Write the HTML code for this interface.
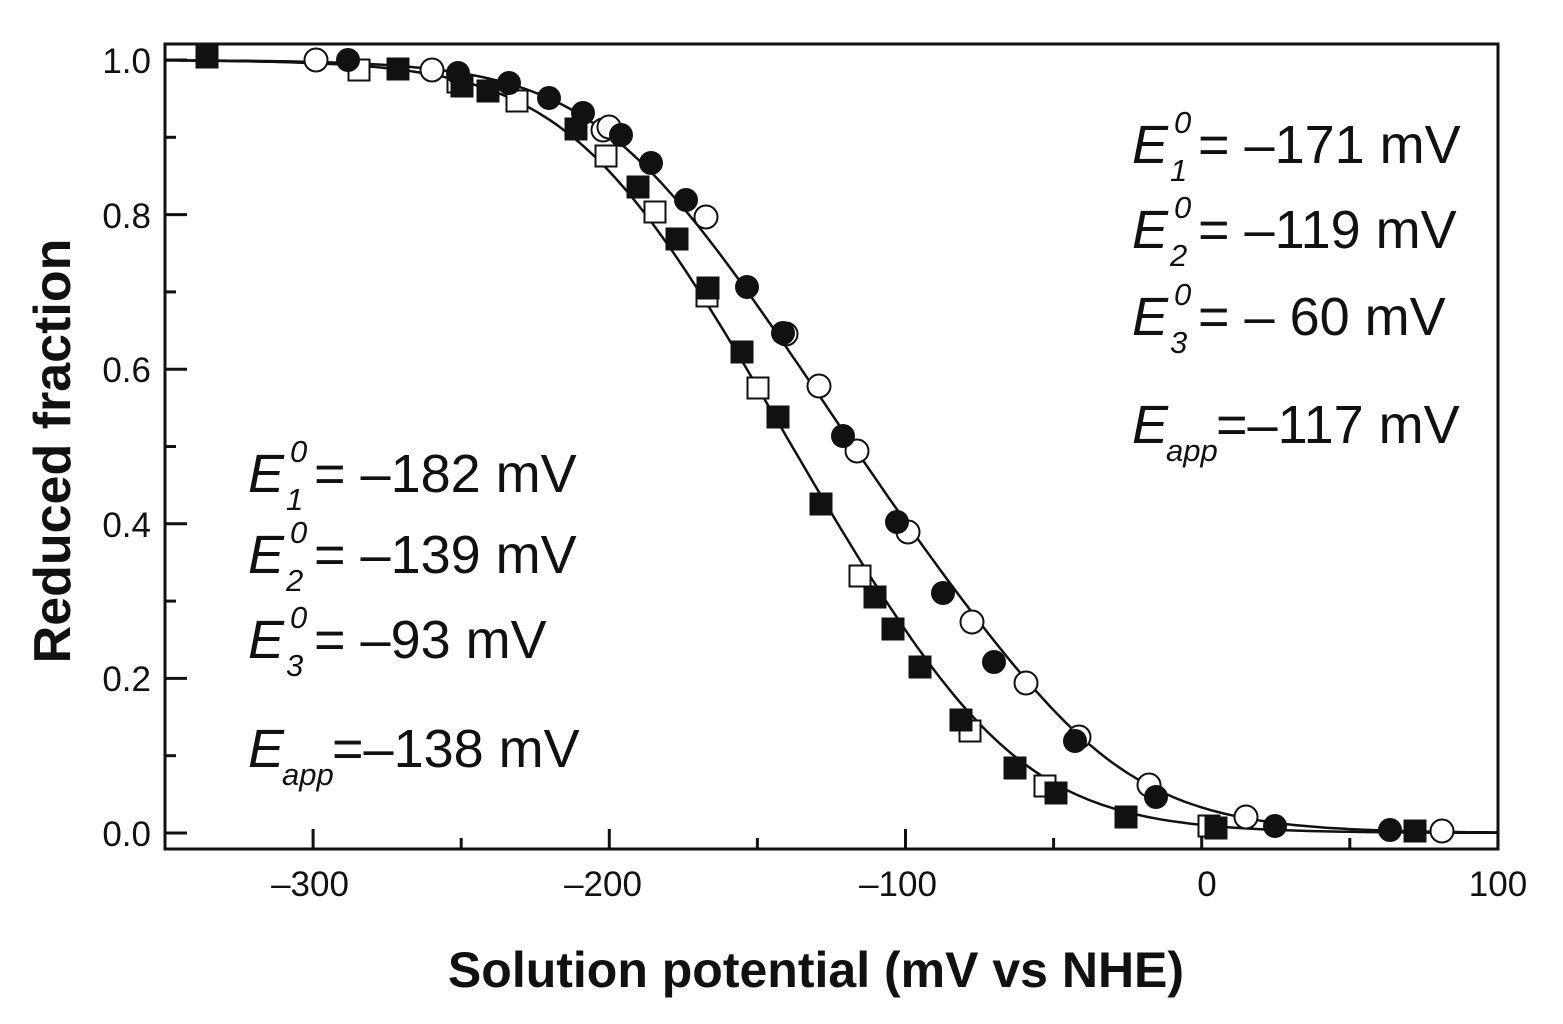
<!DOCTYPE html>
<html><head><meta charset="utf-8"><style>
html,body{margin:0;padding:0;background:#fff}
svg{display:block}
text{font-family:"Liberation Sans",Arial,sans-serif;fill:#111}
</style></head><body>
<svg id="s" width="1563" height="1024" viewBox="0 0 1563 1024" xmlns="http://www.w3.org/2000/svg">
<rect x="165" y="44" width="1333" height="805" fill="none" stroke="#111" stroke-width="3"/>
<g id="ticks" stroke="#111" stroke-width="3"></g>
<g font-size="35" text-anchor="end">
<text x="151" y="846">0.0</text><text x="151" y="691">0.2</text><text x="151" y="537">0.4</text>
<text x="151" y="382">0.6</text><text x="151" y="228">0.8</text><text x="151" y="73">1.0</text>
</g>
<g font-size="35" text-anchor="middle">
<text x="310" y="896">–300</text><text x="603" y="896">–200</text><text x="898" y="896">–100</text>
<text x="1207" y="896">0</text><text x="1498" y="896">100</text>
</g>
<text x="816" y="987" font-size="50" font-weight="bold" text-anchor="middle">Solution potential (mV vs NHE)</text>
<text transform="translate(70,451) rotate(-90)" font-size="52" font-weight="bold" text-anchor="middle">Reduced fraction</text>
<g id="curves" fill="none" stroke="#111" stroke-width="2.5"></g>
<g id="marks"></g>
<g font-size="54" id="ann"></g>
</svg>
<script>
var NS="http://www.w3.org/2000/svg";
function el(p,n,a,t){var e=document.createElementNS(NS,n);for(var k in a)e.setAttribute(k,a[k]);if(t)e.textContent=t;document.getElementById(p).appendChild(e);return e;}
function X(v){return 165+(v+350)*2.962;}
function Y(f){return 833-773*f;}
for(var v=-350;v<=100;v+=50){var L=(v%100===0)?20:11;el("ticks","line",{x1:X(v),y1:849,x2:X(v),y2:849-L});}
for(var f=0;f<=1.001;f+=0.1){var i=Math.round(f*10),L=(i%2===0)?22:11;el("ticks","line",{x1:165,y1:Y(f),x2:165+L,y2:Y(f)});}
function curve(E){var d="";for(var v=-350;v<=100;v+=2){var fr=0;E.forEach(function(e){fr+=1/(1+Math.exp((v-e)/25.7));});fr/=E.length;
d+=(d?"L":"M")+X(v).toFixed(1)+","+Y(fr).toFixed(1);}
el("curves","path",{d:d});}
curve([-182,-139,-93]);curve([-171,-119,-60]);
var oc=[[316,60],[432,70],[603,130],[609,127],[706,217],[786,334],[819,386],[857,451],[908,532],[972,622],[1026,683],[1079,737],[1149,785],[1246,817],[1442,831]];
var os=[[359,70],[458,82],[517,101],[606,156],[655,212],[707,296],[758,388],[860,576],[970,731],[1045,786],[1209,826]];
var fs=[[207,57],[398,69],[462,86],[488,91],[576,129],[638,187],[677,239],[708,288],[742,352],[778,417],[821,504],[875,597],[893,629],[920,667],[961,720],[1015,768],[1056,793],[1126,817],[1216,828],[1415,831]];
var fc=[[348,60],[458,73],[509,83],[549,98],[583,113],[621,135],[651,163],[686,200],[747,287],[783,333],[843,436],[897,522],[943,593],[994,662],[1075,741],[1156,797],[1275,826],[1390,830]];
oc.forEach(function(p){el("marks","circle",{cx:p[0],cy:p[1],r:11.5,fill:"#fff",stroke:"#111","stroke-width":2});});
os.forEach(function(p){el("marks","rect",{x:p[0]-10.5,y:p[1]-10.5,width:21,height:21,fill:"#fff",stroke:"#111","stroke-width":2});});
fs.forEach(function(p){el("marks","rect",{x:p[0]-11.5,y:p[1]-11.5,width:23,height:23,fill:"#111"});});
fc.forEach(function(p){el("marks","circle",{cx:p[0],cy:p[1],r:12,fill:"#111"});});
function ann(x,y,sub,val,app){
 el("ann","text",{x:x,y:y,"font-style":"italic"},"E");
 if(app){el("ann","text",{x:x+34,y:y+18,"font-size":31,"font-style":"italic"},"app");el("ann","text",{x:x+84,y:y},"=–"+val+" mV");}
 else{el("ann","text",{x:x+42,y:y-30,"font-size":31,"font-style":"italic"},"0");
 el("ann","text",{x:x+38,y:y+18,"font-size":31,"font-style":"italic"},sub);
 el("ann","text",{x:x+66,y:y},"= "+val+" mV");}
}
ann(1132,163,"1","–171");ann(1132,248,"2","–119");ann(1132,335,"3","– 60");ann(1132,443,"","117",true);
ann(248,492,"1","–182");ann(248,573,"2","–139");ann(248,658,"3","–93");ann(248,767,"","138",true);
</script>
</body></html>
